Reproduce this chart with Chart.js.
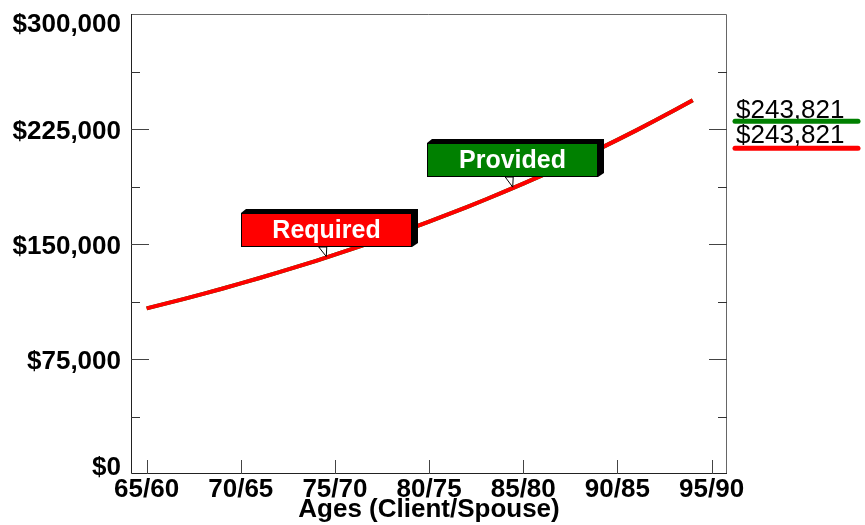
<!DOCTYPE html>
<html><head><meta charset="utf-8">
<script src="https://cdn.jsdelivr.net/npm/chart.js@4/dist/chart.umd.min.js"></script>
<style>html,body{margin:0;padding:0;background:#fff;}#wrap{width:865px;height:525px;position:relative;}</style>
</head><body><div id="wrap"><canvas id="c" width="865" height="525"></canvas></div>
<script>
// ---- data ----
const ages = [65,66,67,68,69,70,71,72,73,74,75,76,77,78,79,80,81,82,83,84,85,86,87,88,89,90,91,92,93,94];
const required = [108000,111076,114239,117492,120838,124279,127818,131458,135201,139051,143011,147083,151272,155580,160010,164567,169253,174073,179030,184128,189372,194764,200311,206015,211881,217915,224121,230503,237067,243821];
const provided = [108000,111076,114239,117492,120838,124279,127818,131458,135201,139051,143011,147083,151272,155580,160010,164567,169253,174073,179030,184128,189372,194764,200311,206015,211881,217915,224121,230503,237067,243821];
const xTickAges = [65,70,75,80,85,90,95];
const xTickLabels = ['65/60','70/65','75/70','80/75','85/80','90/85','95/90'];
const yTickValues = [0,37500,75000,112500,150000,187500,225000,262500,300000];
const yMajorValues = [0,75000,150000,225000,300000];
const yMajorLabels = ['$0','$75,000','$150,000','$225,000','$300,000'];
const endLabels = ['$243,821','$243,821'];
const seriesNames = ['Required','Provided'];
const annotationAges = [74.54, 84.44];

const RED = '#ff0000', GREEN = '#008000';
const FONT = "'Liberation Sans', Arial, Helvetica, sans-serif";

function interp(arr, age){
  const i = Math.max(0, Math.min(ages.length-2, Math.floor(age - ages[0])));
  const t = age - ages[i];
  return arr[i] + (arr[i+1]-arr[i]) * t;
}

const decor = {
  id: 'decor',
  afterDatasetsDraw(chart){
    const ctx = chart.ctx, a = chart.chartArea;
    const xs = chart.scales.x, ys = chart.scales.y;
    ctx.save();
    // frame
    ctx.lineWidth = 1;
    ctx.strokeStyle = '#666';
    ctx.beginPath();
    ctx.moveTo(a.left, a.top+0.5); ctx.lineTo(a.right-0.5, a.top+0.5); ctx.lineTo(a.right-0.5, a.bottom);
    ctx.stroke();
    ctx.strokeStyle = '#222';
    ctx.beginPath();
    ctx.moveTo(a.left+0.5, a.top); ctx.lineTo(a.left+0.5, a.bottom-0.5); ctx.lineTo(a.right, a.bottom-0.5);
    ctx.stroke();
    // y ticks (inward, both sides)
    yTickValues.forEach(v => {
      if (v === 0 || v === 300000) return;
      const y = Math.round(ys.getPixelForValue(v)) + 0.5;
      const len = yMajorValues.includes(v) ? 18 : 9;
      ctx.strokeStyle = yMajorValues.includes(v) ? '#444' : '#333';
      ctx.beginPath();
      ctx.moveTo(a.left, y); ctx.lineTo(a.left+len, y);
      ctx.moveTo(a.right, y); ctx.lineTo(a.right-len, y);
      ctx.stroke();
    });
    // x ticks (upward)
    ctx.strokeStyle = '#444';
    xTickAges.forEach(v => {
      const x = Math.round(xs.getPixelForValue(v)) + 0.5;
      ctx.beginPath(); ctx.moveTo(x, a.bottom); ctx.lineTo(x, a.bottom-14); ctx.stroke();
    });
    // y labels (clamped inside plot height)
    ctx.fillStyle = '#000';
    ctx.font = 'bold 26px ' + FONT;
    ctx.textAlign = 'right';
    ctx.textBaseline = 'middle';
    yMajorValues.forEach((v, i) => {
      let y = ys.getPixelForValue(v) + 3;
      y = Math.max(a.top + 11, Math.min(a.bottom - 6, y));
      ctx.fillText(yMajorLabels[i], a.left - 10, y);
    });
    // right-side end labels
    const yEnd = ys.getPixelForValue(required[required.length-1]);
    ctx.font = '26px ' + FONT;
    ctx.textAlign = 'left';
    ctx.textBaseline = 'middle';
    const lx = a.right + 9;
    ctx.fillText(endLabels[1], lx, yEnd + 11);
    ctx.fillText(endLabels[0], lx, yEnd + 36);
    ctx.lineCap = 'round';
    ctx.lineWidth = 5;
    ctx.strokeStyle = GREEN;
    ctx.beginPath(); ctx.moveTo(a.right+8, yEnd+21); ctx.lineTo(a.right+131, yEnd+21); ctx.stroke();
    ctx.strokeStyle = RED;
    ctx.beginPath(); ctx.moveTo(a.right+8, yEnd+48); ctx.lineTo(a.right+131, yEnd+48); ctx.stroke();
    ctx.lineCap = 'butt';
    // callout boxes
    const cols = [RED, GREEN];
    const arrs = [required, provided];
    annotationAges.forEach((age, i) => {
      const ax = xs.getPixelForValue(age);
      const ay = ys.getPixelForValue(interp(arrs[i], age)) - 1;
      const x0 = Math.round(ax - 85.5), x1 = x0 + 171;
      const y1 = Math.round(ay - 10), y0 = y1 - 34;
      // pointer
      ctx.lineWidth = 1;
      ctx.strokeStyle = '#000';
      ctx.fillStyle = '#fff';
      ctx.beginPath();
      ctx.moveTo(ax-7.5, y1); ctx.lineTo(ax, ay); ctx.lineTo(ax+0.5, y1); ctx.closePath();
      ctx.fill(); ctx.stroke();
      // 3D shadow
      ctx.fillStyle = '#000';
      ctx.beginPath();
      ctx.moveTo(x0, y0); ctx.lineTo(x0+5, y0-4); ctx.lineTo(x1+6, y0-4); ctx.lineTo(x1+6, y1-4); ctx.lineTo(x1, y1); ctx.closePath();
      ctx.fill();
      // box
      ctx.fillStyle = cols[i];
      ctx.fillRect(x0, y0, x1-x0, y1-y0);
      ctx.strokeStyle = '#000';
      ctx.strokeRect(x0+0.5, y0+0.5, x1-x0-1, y1-y0-1);
      // text
      ctx.fillStyle = '#fff';
      ctx.font = 'bold 25px ' + FONT;
      ctx.textAlign = 'center';
      ctx.textBaseline = 'middle';
      ctx.fillText(seriesNames[i], (x0+x1)/2, (y0+y1)/2 + 1);
    });
    ctx.restore();
  }
};

new Chart(document.getElementById('c'), {
  type: 'line',
  data: {
    datasets: [
      { label: seriesNames[0], data: ages.map((a, i) => ({x: a, y: required[i]})), borderColor: RED, borderWidth: 4, pointRadius: 0, tension: 0, fill: false },
      { label: seriesNames[1], data: ages.map((a, i) => ({x: a, y: provided[i]})), borderColor: GREEN, borderWidth: 4, pointRadius: 0, tension: 0, fill: false }
    ]
  },
  options: {
    responsive: false,
    animation: false,
    devicePixelRatio: 1,
    layout: { padding: { left: 131, right: 138, top: 14, bottom: 0 } },
    plugins: { legend: { display: false }, tooltip: { enabled: false } },
    scales: {
      x: {
        type: 'linear', min: 64.17, max: 95.82,
        afterBuildTicks: s => { s.ticks = xTickAges.map(v => ({ value: v })); },
        afterFit: s => { s.height = 51; },
        grid: { display: false, drawTicks: false },
        border: { display: false },
        ticks: {
          padding: 3, maxRotation: 0, autoSkip: false, color: '#000',
          font: { family: FONT, size: 26, weight: 'bold', lineHeight: 1 },
          callback: v => xTickLabels[xTickAges.indexOf(v)]
        },
        title: { display: true, text: 'Ages (Client/Spouse)', color: '#000', font: { family: FONT, size: 26, weight: 'bold', lineHeight: 1 }, padding: { top: 0, bottom: 2 } }
      },
      y: {
        type: 'linear', min: 0, max: 300000, display: false
      }
    }
  },
  plugins: [decor]
});
</script></body></html>
